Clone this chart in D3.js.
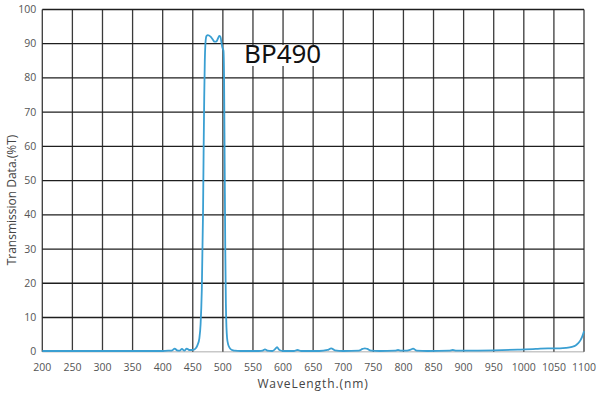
<!DOCTYPE html>
<html><head><meta charset="utf-8">
<script src="https://cdn.jsdelivr.net/npm/d3@7"></script>
<style>body{margin:0;background:#fff}svg{display:block}</style>
</head><body>
<svg id="c" width="600" height="394"></svg>
<script>
const xTicks = [200,250,300,350,400,450,500,550,600,650,700,750,800,850,900,950,1000,1050,1100];
const yTicks = [0,10,20,30,40,50,60,70,80,90,100];
const wavelength = [200,250,300,350,400,410,416,420,424,428,432,436,440,444,448,452,455,458,461,463,465,467,468,469,470,471,472,473,475,477,480,483,486,489,492,494,496,498,499,500,501,502,503,504,505,506,507,509,511,514,517,520,530,560,566,570,574,582,586,590,594,600,618,624,630,660,674,680,686,700,726,732,736,740,746,760,786,791,796,806,812,816,822,840,876,882,888,900,950,990,1020,1040,1060,1070,1080,1086,1090,1094,1097,1100];
const transmission = [0.2,0.2,0.2,0.2,0.2,0.3,0.4,0.9,0.4,0.3,0.8,0.3,0.9,0.5,0.5,0.6,1.0,2.0,4.0,8.0,18,40,58,74,85,90,91.8,92.3,92.5,92.4,92.0,91.3,90.6,90.6,91.6,92.3,92.0,90.0,89.0,88.5,88.0,80,55,30,14,7,4,2,1.2,0.6,0.4,0.3,0.2,0.2,0.3,0.7,0.3,0.2,0.6,1.3,0.5,0.2,0.2,0.5,0.2,0.2,0.5,1.0,0.4,0.2,0.3,0.8,1.0,0.8,0.3,0.2,0.3,0.5,0.3,0.3,0.6,0.9,0.3,0.2,0.3,0.5,0.3,0.3,0.4,0.6,0.8,1.0,1.0,1.1,1.4,1.8,2.4,3.3,4.4,6.0];

const W=600,H=394, m={l:42.3,r:16,t:9.5,b:42.3};
const svg=d3.select("#c");
const x=d3.scaleLinear().domain([200,1100]).range([m.l,W-m.r]);
const y=d3.scaleLinear().domain([0,100]).range([H-m.b,m.t]);

const g=svg.append("g");
g.append("line").attr("x1",x(200)).attr("x2",x(1100)).attr("y1",y(0)).attr("y2",y(0))
 .attr("stroke","#c8c8c8").attr("stroke-width",1.4);
g.selectAll(".vg").data(xTicks).join("line")
 .attr("x1",d=>x(d)).attr("x2",d=>x(d)).attr("y1",y(0)).attr("y2",y(100))
 .attr("stroke","#3a3a3a").attr("stroke-width",1.3);
g.selectAll(".hg").data(yTicks.filter(d=>d>0)).join("line")
 .attr("x1",x(200)).attr("x2",x(1100)).attr("y1",d=>y(d)).attr("y2",d=>y(d))
 .attr("stroke","#1e1e1e").attr("stroke-width",1.3);

const tf="'Open Sans', 'DejaVu Sans', sans-serif";
g.selectAll(".yl").data(yTicks).join("text")
 .attr("x",m.l-6).attr("y",d=>y(d)+3.5).attr("text-anchor","end")
 .attr("font-family",tf).attr("font-size",10.5).attr("fill","#555").text(d=>d);
g.selectAll(".xl").data(xTicks).join("text")
 .attr("x",d=>x(d)).attr("y",y(0)+19).attr("text-anchor","middle")
 .attr("font-family",tf).attr("font-size",10.5).attr("fill","#555").text(d=>d);

svg.append("text").attr("x",313).attr("y",388).attr("text-anchor","middle")
 .attr("font-family",tf).attr("font-size",12).attr("letter-spacing",0.9).attr("fill","#444")
 .text("WaveLength.(nm)");
svg.append("text").attr("transform","translate(16,200) rotate(-90)").attr("text-anchor","middle")
 .attr("font-family",tf).attr("font-size",12).attr("fill","#444")
 .text("Transmission Data.(%T)");

const pts=wavelength.map((w,i)=>[w,transmission[i]]);
svg.append("path").datum(pts)
 .attr("d",d3.line().x(d=>x(d[0])).y(d=>y(d[1])).curve(d3.curveMonotoneX))
 .attr("fill","none").attr("stroke","#3a9fd2").attr("stroke-width",1.8);

// label with white box
svg.append("rect").attr("x",241).attr("y",45).attr("width",85).attr("height",21).attr("fill","#fff");
svg.append("text").attr("x",244).attr("y",63).attr("font-family","'Noto Sans', sans-serif")
 .attr("font-size",26).attr("fill","#111").text("BP490");
</script>
</body></html>
